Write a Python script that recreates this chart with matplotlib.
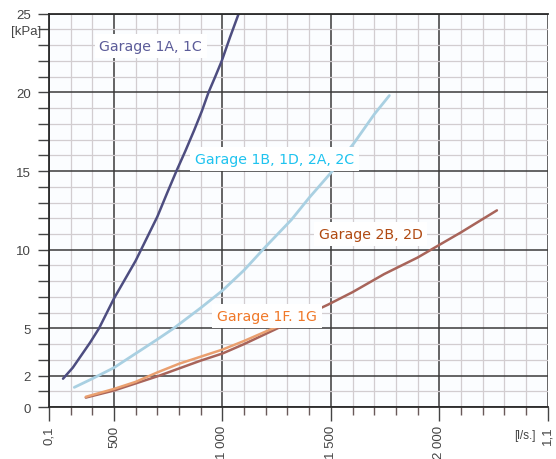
import matplotlib
matplotlib.use("Agg")
import matplotlib.pyplot as plt
import numpy as np

# flow [l/s] and pressure drop [kPa]
x_1a = [265, 310, 350, 390, 431, 500, 550, 600, 650, 700, 745, 788, 830, 870, 905, 936, 967, 997, 1035, 1075]
y_1a = [1.8, 2.5, 3.3, 4.1, 5.0, 6.9, 8.1, 9.3, 10.7, 12.1, 13.6, 15.0, 16.3, 17.6, 18.8, 20.0, 21.0, 22.0, 23.5, 25.0]

x_1b = [317, 400, 500, 600, 700, 775, 900, 1000, 1100, 1200, 1318, 1400, 1501, 1608, 1700, 1770]
y_1b = [1.25, 1.8, 2.5, 3.4, 4.3, 5.0, 6.3, 7.4, 8.7, 10.2, 11.9, 13.3, 14.9, 16.8, 18.6, 19.8]

x_2b = [370, 500, 600, 700, 800, 900, 1000, 1100, 1200, 1300, 1486, 1600, 1746, 1900, 2006, 2100, 2266]
y_2b = [0.6, 1.05, 1.5, 1.95, 2.45, 2.95, 3.4, 4.0, 4.65, 5.3, 6.5, 7.3, 8.45, 9.5, 10.35, 11.1, 12.5]

x_1f = [370, 500, 600, 700, 800, 900, 1000, 1100, 1200, 1260]
y_1f = [0.65, 1.15, 1.6, 2.2, 2.75, 3.2, 3.65, 4.2, 4.8, 5.15]

x_ticks = [200, 500, 1000, 1500, 2000, 2500]
x_labels = ["0,1", "500", "1 000", "1 500", "2 000", "1,1"]
y_ticks = [0, 2, 5, 10, 15, 20, 25]
y_labels = ["0", "2", "5", "10", "15", "20", "25"]

fig = plt.figure(figsize=(5.56, 4.6), dpi=100)
ax = fig.add_axes([0.088, 0.113, 0.897, 0.855])
ax.set_facecolor("#fbfdff")

ax.set_xlim(200, 2500)
ax.set_ylim(0, 25)

ax.set_xticks(x_ticks)
ax.set_xticklabels(x_labels, rotation=90, family=["Liberation Sans", "DejaVu Sans"],
                   fontsize=9.5, color="#444444")
ax.set_xticks(np.arange(200, 2501, 100), minor=True)
ax.set_yticks(y_ticks)
ax.set_yticklabels(y_labels, family=["Liberation Sans", "DejaVu Sans"],
                   fontsize=9.5, color="#444444")
ax.set_yticks(np.arange(0, 26, 1), minor=True)

ax.tick_params(axis="x", which="major", length=10, width=1, color="#444444", pad=3)
ax.tick_params(axis="x", which="minor", length=6, width=1, color="#6a5a5a")
ax.tick_params(axis="y", which="both", length=8, width=1, color="#444444", pad=5)

ax.grid(which="minor", color="#d2cdd0", linewidth=0.9)
ax.grid(which="major", color="#3a3a3a", linewidth=1.1)
ax.set_axisbelow(True)

for side in ["left", "bottom", "top"]:
    ax.spines[side].set_color("#2a2a2a")
    ax.spines[side].set_linewidth(1.3)
ax.spines["right"].set_visible(False)

ax.plot(x_1a, y_1a, color="#4d4d80", lw=1.8, solid_capstyle="round", solid_joinstyle="round")
ax.plot(x_1b, y_1b, color="#a9d0e2", lw=2, solid_capstyle="round", solid_joinstyle="round")
ax.plot(x_2b, y_2b, color="#a8645a", lw=1.8, solid_capstyle="round", solid_joinstyle="round")
ax.plot(x_1f, y_1f, color="#eaa070", lw=1.8, solid_capstyle="round", solid_joinstyle="round")

box = dict(boxstyle="square,pad=0.35", facecolor="white", edgecolor="none")
ax.text(670, 22.95, "Garage 1A, 1C", color="#5c5c99", fontsize=10.2,
        ha="center", va="center", bbox=box)
ax.text(1240, 15.75, "Garage 1B, 1D, 2A, 2C", color="#1fc3ef", fontsize=10.2,
        ha="center", va="center", bbox=box)
ax.text(1683, 11.0, "Garage 2B, 2D", color="#b04a12", fontsize=10.2,
        ha="center", va="center", bbox=box)
ax.text(1204, 5.8, "Garage 1F. 1G", color="#f07828", fontsize=10.2,
        ha="center", va="center", bbox=box)

ax.text(-0.015, 23.9, "[kPa]", transform=ax.get_yaxis_transform(), ha="right", va="center",
        family=["Liberation Sans", "DejaVu Sans"], fontsize=9.5, color="#444444")
ax.text(2395, -1.8, "[l/s.]", ha="center", va="center", clip_on=False,
        family=["Liberation Sans", "DejaVu Sans"], fontsize=8.5, color="#444444")

fig.savefig("out.png", dpi=100)
